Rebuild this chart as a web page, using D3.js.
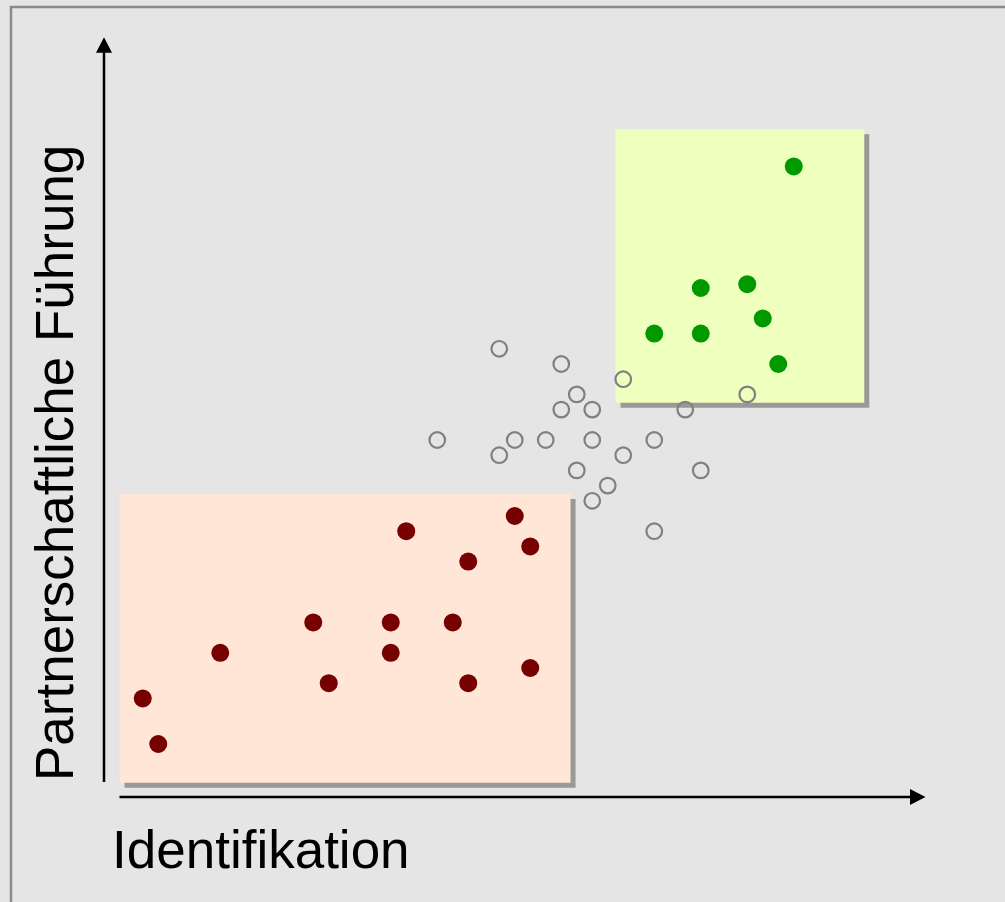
<!DOCTYPE html>
<html>
<head>
<meta charset="utf-8">
<script src="https://cdn.jsdelivr.net/npm/d3@7"></script>
<style>
  html, body { margin: 0; padding: 0; background: #e5e5e5; overflow: hidden; }
  svg { display: block; }
</style>
</head>
<body>
<svg id="chart" width="1005" height="902"></svg>
<script>
// Scores on both dimensions (grid units)
const lowX  = [24, 17, 25, 21, 11, 16, 20, 5, 16, 25, 12, 21, 0, 1];
const lowY  = [15, 14, 13, 12, 8, 8, 8, 6, 6, 5, 4, 4, 3, 0];

const midX  = [23, 27, 31, 28, 27, 29, 35, 19, 24, 26, 29, 33, 23, 31, 28, 36, 30, 29, 33, 39];
const midY  = [26, 25, 24, 23, 22, 22, 22, 20, 20, 20, 20, 20, 19, 19, 18, 18, 17, 16, 14, 23];

const highX = [42, 36, 39, 40, 33, 36, 41];
const highY = [38, 30, 30.25, 28, 27, 27, 25];

// Highlighted regions in data units: [xMin, xMax, yMin, yMax]
const lowZone  = [-1.5, 27.6, -2.55, 16.45];
const highZone = [30.5, 46.55, 22.45, 40.45];

const xTitle = "Identifikation";
const yTitle = "Partnerschaftliche Führung";

const svg = d3.select("#chart");

const x = d3.scaleLinear().domain([-1.5, 50.5]).range([119.5, 925.5]);
const y = d3.scaleLinear().domain([-2.5, 46.5]).range([782, 37.2]);

// Outer frame
svg.append("rect")
  .attr("x", 11).attr("y", 7)
  .attr("width", 1100).attr("height", 1000)
  .attr("fill", "#e5e5e5")
  .attr("stroke", "#8a8a8a").attr("stroke-width", 2.5);

// Zones with drop shadows
function zone(z, fill) {
  const g = svg.append("g");
  const rx = x(z[0]), ry = y(z[3]);
  const w = x(z[1]) - x(z[0]), h = y(z[2]) - y(z[3]);
  g.append("rect").attr("x", rx + 5).attr("y", ry + 5)
    .attr("width", w).attr("height", h).attr("fill", "#999999");
  g.append("rect").attr("x", rx).attr("y", ry)
    .attr("width", w).attr("height", h).attr("fill", fill);
}
zone(lowZone, "#ffe6d6");
zone(highZone, "#efffbd");

// Axes as arrows
const axes = svg.append("g");
const x0 = x(-1.5), x1 = x(50.5);
const yb = y(-2.5), yt = y(46.5);
const axisX = 104, axisY = 797;

axes.append("line")
  .attr("x1", axisX).attr("y1", yb).attr("x2", axisX).attr("y2", yt + 14)
  .attr("stroke", "#000").attr("stroke-width", 2.5);
axes.append("path")
  .attr("d", `M${axisX},${yt} L${axisX - 8},${yt + 15.5} L${axisX + 8},${yt + 15.5} Z`)
  .attr("fill", "#000");

axes.append("line")
  .attr("x1", x0).attr("y1", axisY).attr("x2", x1 - 14).attr("y2", axisY)
  .attr("stroke", "#000").attr("stroke-width", 2.5);
axes.append("path")
  .attr("d", `M${x1},${axisY} L${x1 - 15.5},${axisY - 8} L${x1 - 15.5},${axisY + 8} Z`)
  .attr("fill", "#000");

// Axis titles
svg.append("text")
  .attr("x", 112).attr("y", 868)
  .attr("font-family", "'Liberation Sans', Arial, sans-serif")
  .attr("font-size", 53)
  .attr("fill", "#000")
  .text(xTitle);

svg.append("text")
  .attr("transform", "translate(73,781) rotate(-90)")
  .attr("font-family", "'Liberation Sans', Arial, sans-serif")
  .attr("font-size", 53)
  .attr("fill", "#000")
  .text(yTitle);

// Points
const toPts = (xs, ys) => xs.map((v, i) => ({ x: v, y: ys[i] }));

svg.append("g").selectAll("circle")
  .data(toPts(midX, midY)).join("circle")
  .attr("cx", d => x(d.x)).attr("cy", d => y(d.y))
  .attr("r", 7.8)
  .attr("fill", "none")
  .attr("stroke", "#808080").attr("stroke-width", 2.2);

svg.append("g").selectAll("circle")
  .data(toPts(lowX, lowY)).join("circle")
  .attr("cx", d => x(d.x)).attr("cy", d => y(d.y))
  .attr("r", 9)
  .attr("fill", "#770000");

svg.append("g").selectAll("circle")
  .data(toPts(highX, highY)).join("circle")
  .attr("cx", d => x(d.x)).attr("cy", d => y(d.y))
  .attr("r", 9)
  .attr("fill", "#009900");
</script>
</body>
</html>
